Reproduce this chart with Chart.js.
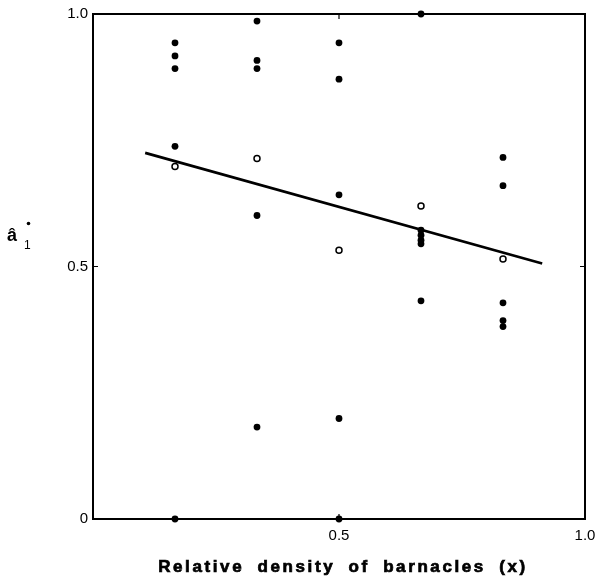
<!DOCTYPE html>
<html>
<head>
<meta charset="utf-8">
<script src="https://cdn.jsdelivr.net/npm/chart.js@4/dist/chart.umd.min.js"></script>
<style>
  html, body { margin: 0; padding: 0; background: #fff; }
  #wrap { width: 597px; height: 579px; }
</style>
</head>
<body>
<div id="wrap"><canvas id="chart" width="597" height="579"></canvas></div>
<script>
// relative density columns (x)
const densities = [1/6, 1/3, 1/2, 2/3, 5/6];

// filled dots, one list per density column
const filledCol1 = [0.943, 0.917, 0.892, 0.738, 0];
const filledCol2 = [0.986, 0.908, 0.892, 0.601, 0.182];
const filledCol3 = [0.943, 0.871, 0.642, 0.199, 0];
const filledCol4 = [1.0, 0.572, 0.562, 0.552, 0.545, 0.432];
const filledCol5 = [0.716, 0.660, 0.428, 0.393, 0.381];

// open circles (one per column)
const openValues = [0.698, 0.714, 0.532, 0.620, 0.515];

// fitted line end points
const lineX = [0.106, 0.913];
const lineY = [0.725, 0.506];

const yTicks = [0, 0.5, 1.0];
const xTicks = [0, 0.5, 1.0];
const xTitle = 'Relative density of barnacles (x)';

function buildFilled() {
  let cols = [filledCol1, filledCol2, filledCol3, filledCol4, filledCol5];
  let pts = [];
  for (let i = 0; i < cols.length; i++) {
    for (let j = 0; j < cols[i].length; j++) {
      pts.push({x: densities[i], y: cols[i][j]});
    }
  }
  return pts;
}

const filledPts = buildFilled();
const openPts = densities.map((d, i) => ({x: d, y: openValues[i]}));
const linePts = lineX.map((x, i) => ({x: x, y: lineY[i]}));

// frame + inward ticks + axis labels
const framePlugin = {
  id: 'frame',
  afterDatasetsDraw(chart) {
    const ctx = chart.ctx;
    const a = chart.chartArea;
    const xs = chart.scales.x, ys = chart.scales.y;
    ctx.save();
    ctx.strokeStyle = '#000';
    ctx.lineWidth = 2;
    ctx.strokeRect(a.left, a.top, a.right - a.left, a.bottom - a.top);
    ctx.lineWidth = 1.2;
    const len = 5;
    const xm = xs.getPixelForValue(0.5), ym = ys.getPixelForValue(0.5);
    ctx.beginPath();
    ctx.moveTo(xm, a.bottom); ctx.lineTo(xm, a.bottom - len);
    ctx.moveTo(xm, a.top); ctx.lineTo(xm, a.top + len);
    ctx.moveTo(a.left, ym); ctx.lineTo(a.left + len, ym);
    ctx.moveTo(a.right, ym); ctx.lineTo(a.right - len, ym);
    ctx.stroke();

    // x axis title, wide spaced heavy lettering
    ctx.fillStyle = '#000';
    ctx.font = 'bold 17px "Liberation Sans", Arial, sans-serif';
    ctx.textAlign = 'center';
    ctx.textBaseline = 'middle';
    ctx.letterSpacing = '2.6px';
    ctx.wordSpacing = '6px';
    ctx.lineWidth = 0.7;
    ctx.fillText(xTitle, 343, 567);
    ctx.strokeText(xTitle, 343, 567);
    ctx.letterSpacing = '0px';
    ctx.wordSpacing = '0px';

    // y axis label: a-hat sub 1, superscript dot
    ctx.textBaseline = 'alphabetic';
    ctx.textAlign = 'left';
    ctx.font = 'bold 18px "Liberation Sans", Arial, sans-serif';
    ctx.fillText('\u00e2', 7, 241);
    ctx.font = '12px "Liberation Sans", Arial, sans-serif';
    ctx.fillText('1', 24, 249);
    ctx.beginPath();
    ctx.arc(28.5, 223.5, 1.8, 0, Math.PI * 2);
    ctx.fill();
    ctx.restore();
  }
};

const ctx = document.getElementById('chart');
new Chart(ctx, {
  type: 'scatter',
  data: {
    datasets: [
      {
        type: 'line',
        data: linePts,
        borderColor: '#000',
        borderWidth: 2.6,
        pointRadius: 0,
        fill: false
      },
      {
        data: filledPts,
        backgroundColor: '#000',
        borderColor: '#000',
        borderWidth: 0,
        pointRadius: 3.4,
        clip: false
      },
      {
        data: openPts,
        backgroundColor: '#fff',
        borderColor: '#000',
        borderWidth: 1.5,
        pointRadius: 3,
        clip: false
      }
    ]
  },
  plugins: [framePlugin],
  options: {
    responsive: false,
    animation: false,
    layout: { padding: { left: 0, top: 14, right: 12, bottom: 0 } },
    plugins: { legend: { display: false }, tooltip: { enabled: false } },
    scales: {
      x: {
        type: 'linear',
        min: 0, max: 1,
        afterBuildTicks: s => { s.ticks = xTicks.map(v => ({value: v})); },
        afterFit: s => { s.height = 60; s.paddingLeft = 0; s.paddingRight = 0; },
        grid: { display: false, drawTicks: false },
        border: { display: false },
        ticks: {
          padding: 8,
          color: '#000',
          maxRotation: 0,
          font: { family: '"Liberation Sans", Arial, sans-serif', size: 15 },
          callback: v => v === 0 ? '' : v.toFixed(1)
        }
      },
      y: {
        type: 'linear',
        min: 0, max: 1,
        afterBuildTicks: s => { s.ticks = yTicks.map(v => ({value: v})); },
        afterFit: s => { s.width = 93; s.paddingTop = 0; s.paddingBottom = 0; },
        grid: { display: false, drawTicks: false },
        border: { display: false },
        ticks: {
          padding: 5,
          color: '#000',
          font: { family: '"Liberation Sans", Arial, sans-serif', size: 15 },
          callback: v => v === 0 ? '0' : v.toFixed(1)
        }
      }
    }
  }
});
</script>
</body>
</html>
